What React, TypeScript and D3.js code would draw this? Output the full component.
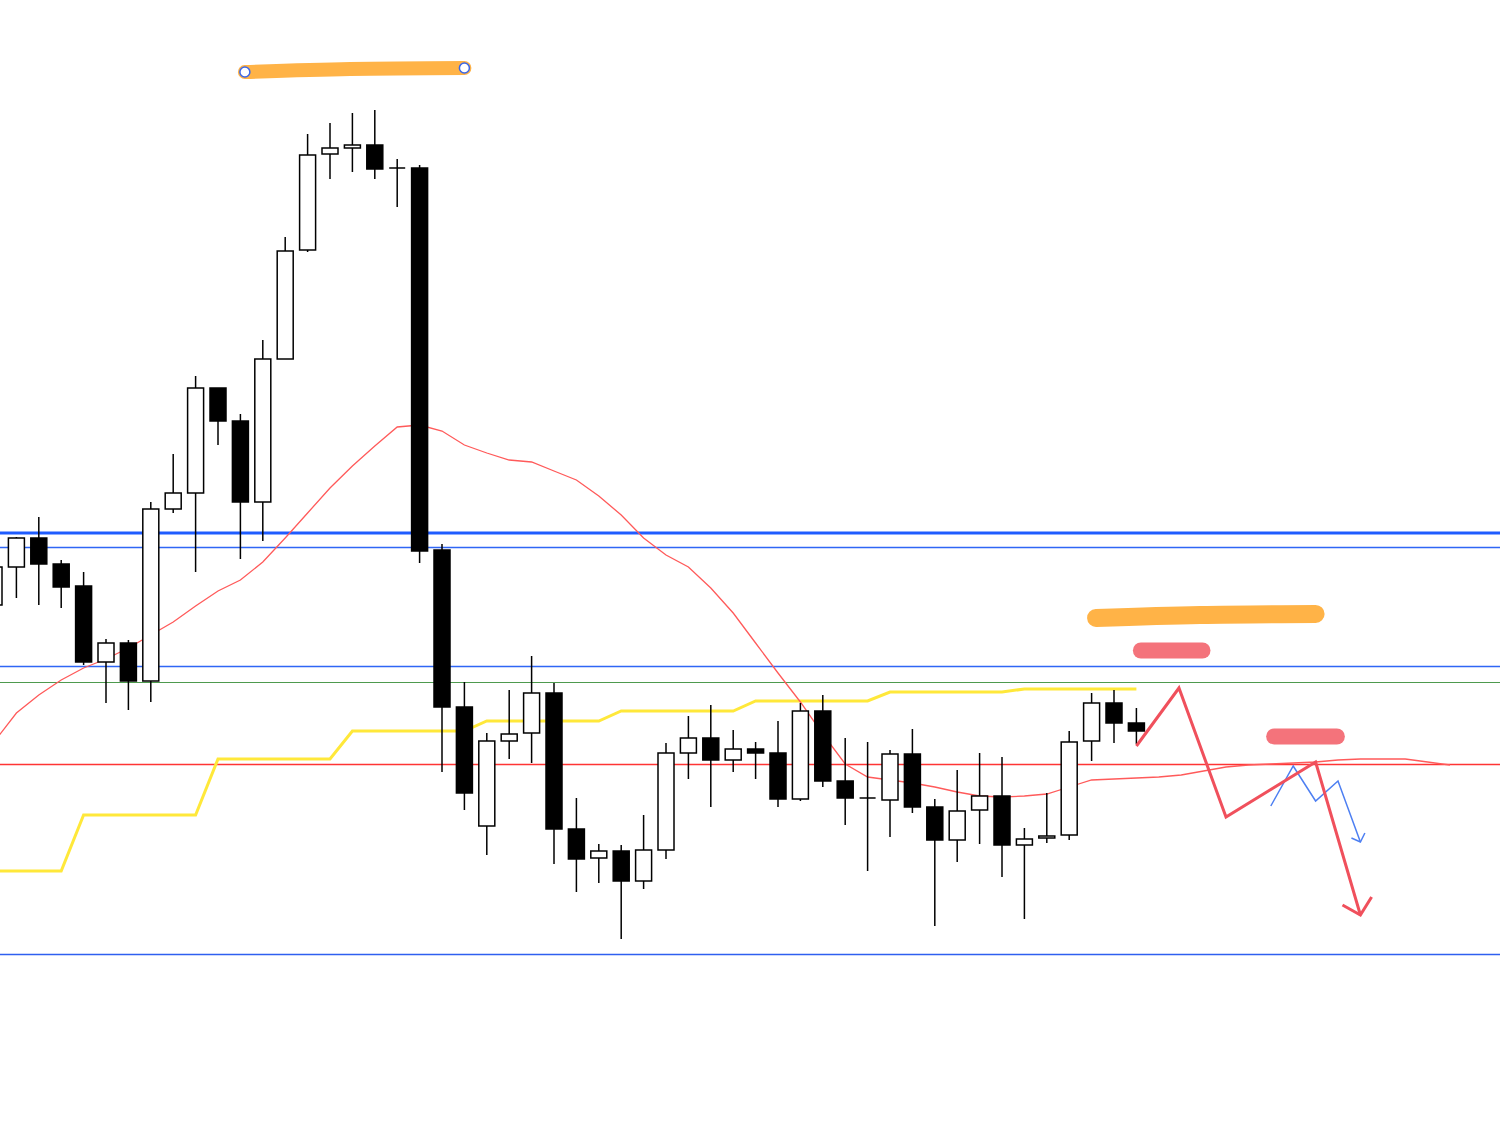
import React from 'react';
import * as d3 from 'd3';

// Candles: [open, high, low, close]
const candles: [number, number, number, number][] = [
  [145.25, 145.70, 145.18, 145.63],
  [145.63, 145.93, 145.32, 145.92],
  [145.92, 146.13, 145.25, 145.66],
  [145.66, 145.70, 145.22, 145.43],
  [145.44, 145.58, 144.65, 144.68],
  [144.68, 144.91, 144.27, 144.87],
  [144.87, 144.90, 144.20, 144.49],
  [144.49, 146.28, 144.28, 146.21],
  [146.21, 146.76, 146.17, 146.37],
  [146.37, 147.54, 145.58, 147.42],
  [147.42, 147.42, 146.85, 147.09],
  [147.09, 147.16, 145.71, 146.28],
  [146.28, 147.90, 145.89, 147.71],
  [147.71, 148.93, 147.71, 148.79],
  [148.80, 149.96, 148.78, 149.75],
  [149.76, 150.07, 149.51, 149.82],
  [149.82, 150.17, 149.58, 149.85],
  [149.85, 150.20, 149.51, 149.61],
  [149.62, 149.71, 149.23, 149.62],
  [149.62, 149.65, 145.67, 145.79],
  [145.80, 145.86, 143.58, 144.23],
  [144.23, 144.48, 143.20, 143.37],
  [143.04, 143.97, 142.75, 143.89],
  [143.89, 144.40, 143.71, 143.96],
  [143.97, 144.74, 143.67, 144.37],
  [144.37, 144.47, 142.66, 143.01],
  [143.01, 143.32, 142.38, 142.71],
  [142.72, 142.86, 142.47, 142.79],
  [142.79, 142.85, 141.91, 142.49],
  [142.49, 143.15, 142.41, 142.80],
  [142.80, 143.87, 142.71, 143.77],
  [143.77, 144.14, 143.51, 143.92],
  [143.92, 144.25, 143.23, 143.70],
  [143.70, 144.00, 143.58, 143.81],
  [143.81, 143.88, 143.51, 143.77],
  [143.77, 144.09, 143.23, 143.31],
  [143.31, 144.27, 143.29, 144.19],
  [144.19, 144.35, 143.43, 143.49],
  [143.49, 143.92, 143.05, 143.32],
  [143.32, 143.88, 142.59, 143.32],
  [143.30, 143.80, 142.93, 143.76],
  [143.76, 144.01, 143.17, 143.23],
  [143.23, 143.31, 142.04, 142.90],
  [142.90, 143.60, 142.68, 143.19],
  [143.20, 143.77, 142.86, 143.34],
  [143.34, 143.73, 142.53, 142.85],
  [142.85, 143.02, 142.11, 142.91],
  [142.92, 143.37, 142.87, 142.94],
  [142.95, 143.99, 142.90, 143.88],
  [143.89, 144.37, 143.69, 144.27],
  [144.27, 144.40, 143.87, 144.07],
  [144.07, 144.22, 143.86, 143.99],
];

// moving average (with the hand-drawn extension to the right)
const maValues = [
  143.88, 144.17, 144.35, 144.50, 144.62, 144.71, 144.82, 144.95, 145.08, 145.24,
  145.39, 145.50, 145.68, 145.92, 146.17, 146.42, 146.64, 146.84, 147.03, 147.05,
  146.99, 146.85, 146.77, 146.70, 146.68, 146.59, 146.50, 146.34, 146.15, 145.92,
  145.75, 145.63, 145.42, 145.17, 144.87, 144.57, 144.28, 143.96, 143.66, 143.53,
  143.50, 143.47, 143.43, 143.38, 143.34, 143.33, 143.34, 143.36, 143.43, 143.50,
  143.51, 143.52, 143.53, 143.55, 143.59, 143.63, 143.65, 143.66, 143.67, 143.68,
  143.70, 143.71, 143.71, 143.71, 143.68, 143.65,
];

// step line (yellow)
const stepValues = [
  142.59, 142.59, 142.59, 142.59, 143.15, 143.15, 143.15, 143.15, 143.15, 143.15,
  143.71, 143.71, 143.71, 143.71, 143.71, 143.71, 143.99, 143.99, 143.99, 143.99,
  143.99, 143.99, 144.09, 144.09, 144.09, 144.09, 144.09, 144.09, 144.19, 144.19,
  144.19, 144.19, 144.19, 144.19, 144.29, 144.29, 144.29, 144.29, 144.29, 144.29,
  144.38, 144.38, 144.38, 144.38, 144.38, 144.38, 144.41, 144.41, 144.41, 144.41,
  144.41, 144.41,
];

// horizontal levels
const levels = [
  { price: 145.97, color: '#1f5cff', width: 3 },
  { price: 145.825, color: '#2f66f5', width: 1.5 },
  { price: 144.635, color: '#2f66f5', width: 1.3 },
  { price: 144.475, color: '#4e9a4e', width: 1.1 },
  { price: 143.655, color: '#ff3434', width: 1.3 },
  { price: 141.755, color: '#2f5ff0', width: 1.3 },
];

// drawings: [index, price]
const orangeTop: [number, number][] = [[11.2, 150.58], [15.9, 150.61], [21.0, 150.62]];
const orangeBottom: [number, number][] = [[49.2, 145.12], [53.84, 145.15], [59.0, 145.16]];
const pinkPills: [number, number, number][] = [[51.2, 53.95, 144.795], [57.15, 59.95, 143.935]];
const redZigzag: [number, number][] = [[51.0, 143.84], [52.9, 144.42], [55.0, 143.13], [59.0, 143.68], [61.0, 142.15]];
const redHead: [number, number][] = [[60.2, 142.25], [61.0, 142.15], [61.5, 142.33]];
const blueZigzag: [number, number][] = [[57.0, 143.24], [58.0, 143.64], [59.0, 143.29], [60.0, 143.49], [61.0, 142.88]];
const blueHead: [number, number][] = [[60.6, 142.92], [61.0, 142.88], [61.2, 142.97]];

const W = 1500;
const H = 1130;

export default function App() {
  const x = d3.scaleLinear().domain([0, 65]).range([-6, 1450]);
  const y = d3.scaleLinear().domain([151.3, 140.0]).range([0, H]);
  const bodyW = 16;

  const line = d3.line<[number, number]>()
    .x(d => x(d[0]))
    .y(d => y(d[1]));
  const curve = d3.line<[number, number]>()
    .x(d => x(d[0]))
    .y(d => y(d[1]))
    .curve(d3.curveCatmullRom);

  const maPath = line(maValues.map((v, i) => [i, v] as [number, number]));
  const stepPath = line(stepValues.map((v, i) => [i, v] as [number, number]));

  return (
    <svg width={W} height={H} style={{ position: 'absolute', left: 0, top: 0, display: 'block', background: '#fff' }}>
      {levels.map((l, i) => (
        <line key={i} x1={0} x2={W} y1={y(l.price)} y2={y(l.price)} stroke={l.color} strokeWidth={l.width} />
      ))}
      <path d={stepPath || ''} fill="none" stroke="#ffe83a" strokeWidth={3} />
      <path d={maPath || ''} fill="none" stroke="#ff5a5a" strokeWidth={1.3} />

      {candles.map(([o, h, l, c], i) => {
        const cx = x(i);
        const top = y(Math.max(o, c));
        const bot = y(Math.min(o, c));
        const bull = c > o;
        const doji = Math.abs(c - o) < 0.005;
        return (
          <g key={i}>
            <line x1={cx} x2={cx} y1={y(h)} y2={y(l)} stroke="#000" strokeWidth={1.5} />
            {doji ? (
              <line x1={cx - bodyW / 2} x2={cx + bodyW / 2} y1={top} y2={top} stroke="#000" strokeWidth={1.5} />
            ) : (
              <rect
                x={cx - bodyW / 2}
                y={top}
                width={bodyW}
                height={Math.max(1, bot - top)}
                fill={bull ? '#fff' : '#000'}
                stroke="#000"
                strokeWidth={1.5}
              />
            )}
          </g>
        );
      })}

      {/* highlighter strokes */}
      <path d={curve(orangeTop) || ''} fill="none" stroke="#ffb347" strokeWidth={14} strokeLinecap="round" />
      {[orangeTop[0], orangeTop[orangeTop.length - 1]].map((p, i) => (
        <circle key={i} cx={x(p[0])} cy={y(p[1])} r={5} fill="#fff" stroke="#3a66e8" strokeWidth={1.5} />
      ))}
      <path d={curve(orangeBottom) || ''} fill="none" stroke="#ffb347" strokeWidth={18} strokeLinecap="round" />
      {pinkPills.map(([a, b, p], i) => (
        <line key={i} x1={x(a)} x2={x(b)} y1={y(p)} y2={y(p)} stroke="#f4737b" strokeWidth={16} strokeLinecap="round" />
      ))}

      {/* scenario arrows */}
      <path d={line(blueZigzag) || ''} fill="none" stroke="#4d7ff2" strokeWidth={1.5} />
      <path d={line(blueHead) || ''} fill="none" stroke="#4d7ff2" strokeWidth={1.5} />
      <path d={line(redZigzag) || ''} fill="none" stroke="#f0505c" strokeWidth={3} strokeLinejoin="miter" />
      <path d={line(redHead) || ''} fill="none" stroke="#f0505c" strokeWidth={3} />
    </svg>
  );
}
